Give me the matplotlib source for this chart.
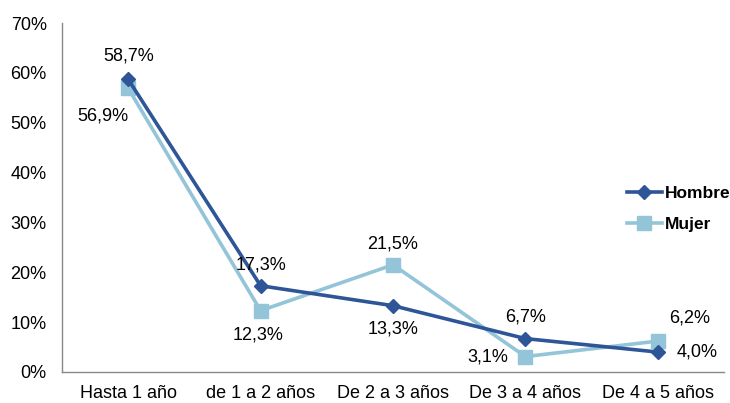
import numpy as np
import matplotlib.pyplot as plt

plt.rcParams.update({"font.family": ["Liberation Sans", "DejaVu Sans"],
                     "font.size": 13})

categories = ["Hasta 1 año", "de 1 a 2 años", "De 2 a 3 años", "De 3 a 4 años", "De 4 a 5 años"]
hombre = [58.7, 17.3, 13.3, 6.7, 4.0]
mujer = [56.9, 12.3, 21.5, 3.1, 6.2]
yticks = [0, 10, 20, 30, 40, 50, 60, 70]

# desplazamiento de etiquetas en pixeles (x, y)
off_hombre = [(0, 23), (0, 21), (0, -23), (0, 22), (39, 0)]
off_mujer = [(-25, -28), (-3, -24), (0, 21), (-38, 0), (32, 23)]

c_h = "#2E5597"
c_m = "#93C4D8"

fig = plt.figure(figsize=(7.3, 4.03), dpi=100)
ax = fig.add_axes([62/730, (403-372)/403, (724-62)/730, (372-23)/403])

x = np.arange(len(categories))
ax.plot(x, mujer, color=c_m, linewidth=2.6, marker="s", markersize=9.5,
        label="Mujer", zorder=2)
ax.plot(x, hombre, color=c_h, linewidth=2.6, marker="D", markersize=7,
        label="Hombre", zorder=3)

for i in range(len(x)):
    ax.annotate(f"{hombre[i]:.1f}%".replace(".", ","), (x[i], hombre[i]),
                xytext=off_hombre[i], textcoords="offset pixels",
                ha="center", va="center")
    ax.annotate(f"{mujer[i]:.1f}%".replace(".", ","), (x[i], mujer[i]),
                xytext=off_mujer[i], textcoords="offset pixels",
                ha="center", va="center")

ax.set_xlim(-0.5, len(categories) - 0.5)
ax.set_ylim(0, 70)
ax.set_xticks(x)
ax.set_xticklabels(categories)
ax.set_yticks(yticks)
ax.set_yticklabels([f"{v}%" for v in yticks])
ax.tick_params(length=0)
ax.tick_params(axis="x", pad=9)
ax.tick_params(axis="y", pad=11)

for s in ["top", "right"]:
    ax.spines[s].set_visible(False)
for s in ["left", "bottom"]:
    ax.spines[s].set_color("#888888")
    ax.spines[s].set_linewidth(1.0)

handles, labels = ax.get_legend_handles_labels()
leg = ax.legend(handles[::-1], labels[::-1], loc="center left",
                bbox_to_anchor=(0.83, 0.467), frameon=False,
                handlelength=2.0, handletextpad=0.2, labelspacing=0.9,
                prop={"weight": "bold", "size": 12.5})

fig.savefig("out.png", dpi=100)
